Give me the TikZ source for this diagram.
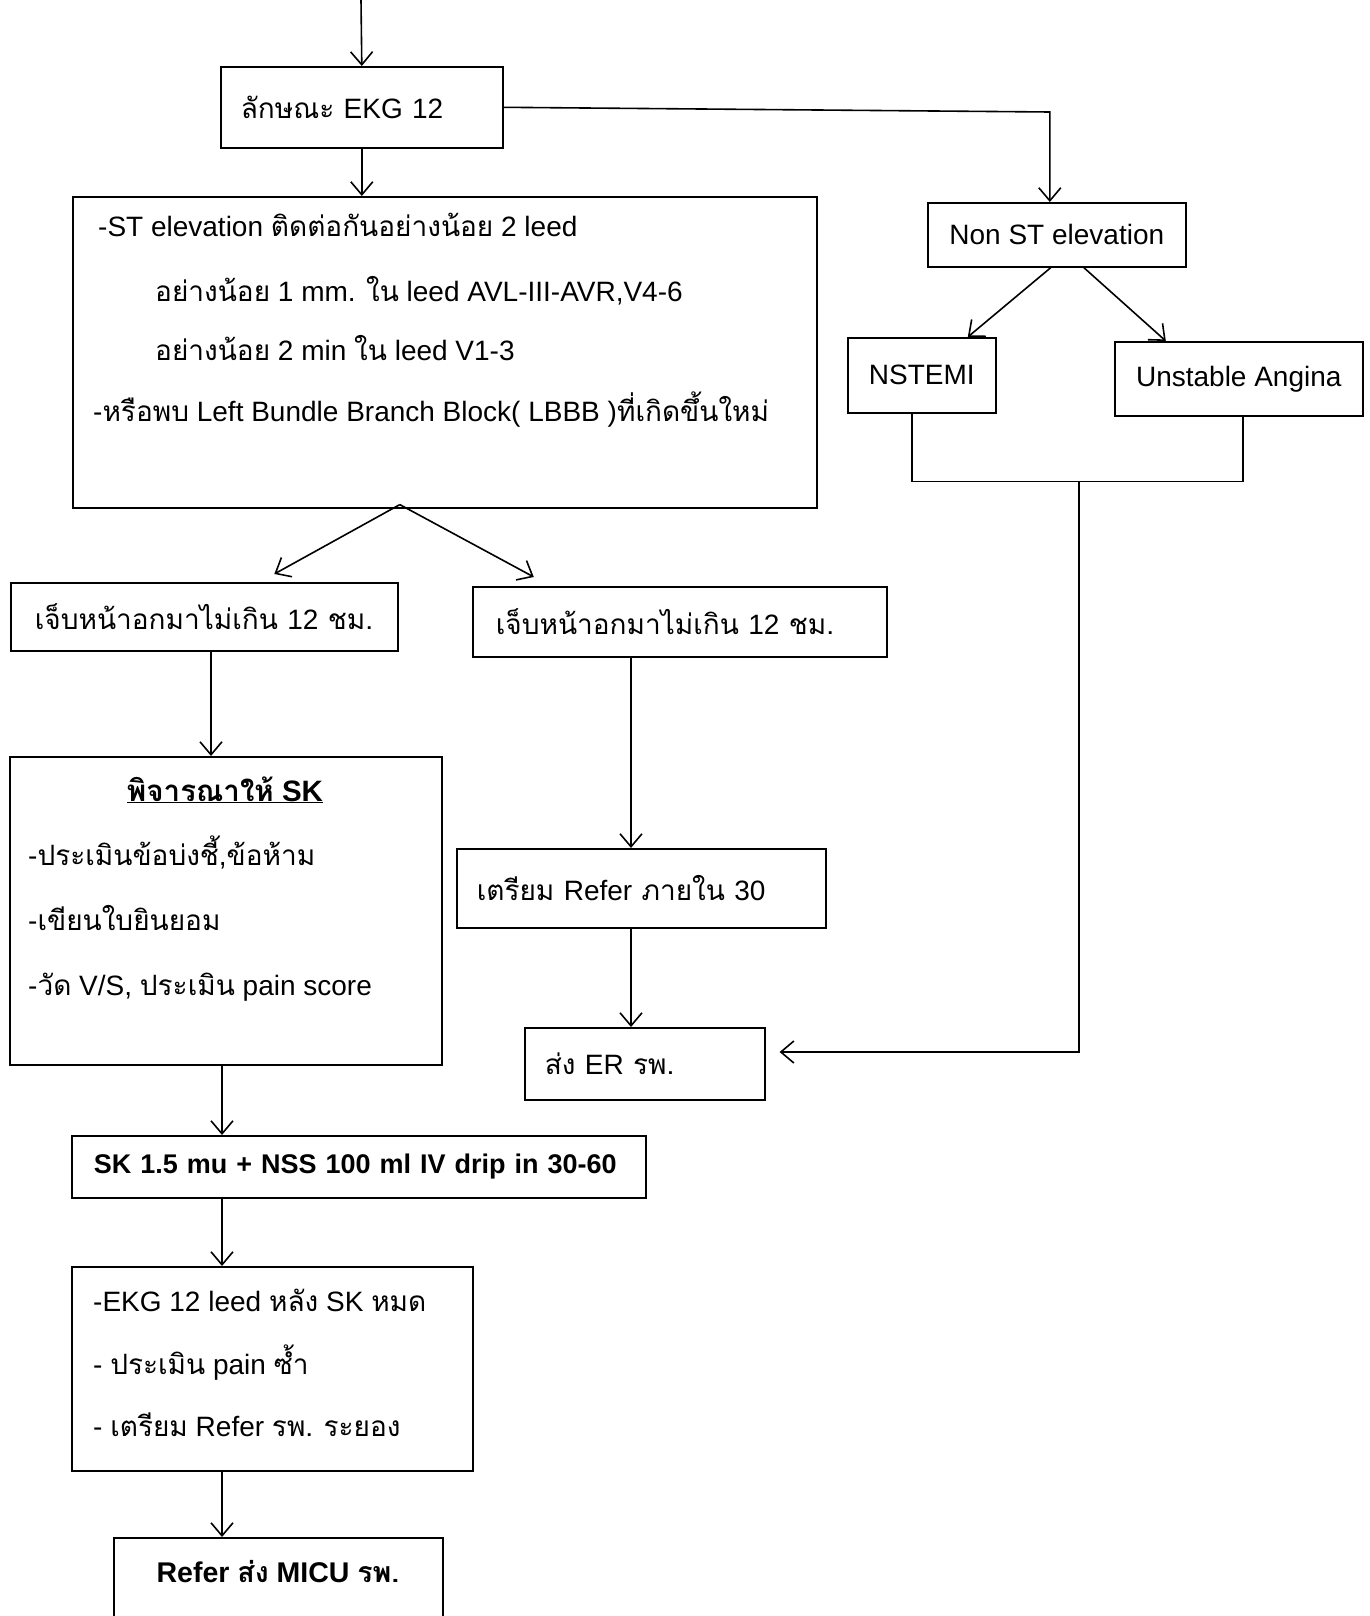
\documentclass[tikz,border=0pt]{standalone}
\usepackage{fontspec}
\setmainfont{Liberation Sans}
\newfontfamily\thaifont[Script=Thai]{Loma}
\newcommand\tf[1]{{\thaifont #1}}
\usetikzlibrary{arrows.meta,calc}
\begin{document}
\begin{tikzpicture}[x=1pt,y=-1pt,
  every node/.style={font=\fontsize{28}{33}\selectfont},
  box/.style={draw, line width=1.6pt, inner sep=0pt, anchor=north west},
  txt/.style={inner sep=0pt, anchor=west, text height=20pt, text depth=6pt},
  arr/.style={line width=1.6pt, -{Straight Barb[length=13pt,width=22pt,line width=1.6pt]}},
  ln/.style={line width=1.6pt}]
\useasboundingbox[fill=white] (0,0) rectangle (1369,1616);
% columns
\coordinate (xa) at (222,0);
\coordinate (xb) at (211,0);
\coordinate (xc) at (631,0);
\coordinate (start) at (361,0);
% boxes
\node[box, minimum width=282pt, minimum height=81pt, text width=242pt, inner xsep=20pt, align=left] (ekg) at (220,66) {\tf{ลักษณะ} EKG 12};
\node[box, minimum width=744pt, minimum height=311pt] (big) at (72,196) {};
\node[txt] (b1) at (98,229) {-ST elevation \tf{ติดต่อกันอย่างน้อย} 2 leed};
\node[txt] (b2) at (155,294) {\tf{อย่างน้อย} 1 mm. \tf{ใน} leed AVL-III-AVR,V4-6};
\node[txt] (b3) at (155,353) {\tf{อย่างน้อย} 2 min \tf{ใน} leed V1-3};
\node[txt] (b4) at (93,414) {-\tf{หรือพบ} Left Bundle Branch Block( LBBB )\tf{ที่เกิดขึ้นใหม่}};
\node[box, minimum width=258pt, minimum height=64pt] (nonst) at (927,202) {Non ST elevation};
\node[box, minimum width=148pt, minimum height=75pt] (nstemi) at (847,337) {NSTEMI};
\node[box, minimum width=248pt, minimum height=74pt] (ua) at (1114,341) {Unstable Angina};
\node[box, minimum width=387pt, minimum height=68pt, text width=339pt, inner xsep=24pt, align=left] (lchest) at (10,582) {\tf{เจ็บหน้าอกมาไม่เกิน} 12 \tf{ชม.}};
\node[box, minimum width=414pt, minimum height=70pt, text width=368pt, inner xsep=23pt, align=left] (rchest) at (472,586) {\tf{เจ็บหน้าอกมาไม่เกิน} 12 \tf{ชม.}};
\node[box, minimum width=432pt, minimum height=308pt] (sk) at (9,756) {};
\node[inner sep=0pt, text height=20pt, text depth=6pt, font=\fontsize{29.5}{34}\selectfont\bfseries] (s0) at (225,794) {\underline{\tf{พิจารณาให้} SK}};
\node[txt] (s1) at (28,858) {-\tf{ประเมินข้อบ่งชี้},\tf{ข้อห้าม}};
\node[txt] (s2) at (28,923) {-\tf{เขียนใบยินยอม}};
\node[txt] (s3) at (28,988) {-\tf{วัด} V/S, \tf{ประเมิน} pain score};
\node[box, minimum width=369pt, minimum height=79pt, text width=329pt, inner xsep=20pt, align=left] (refer) at (456,848) {\tf{เตรียม} Refer \tf{ภายใน} 30};
\node[box, minimum width=240pt, minimum height=72pt, text width=200pt, inner xsep=20pt, align=left] (er) at (524,1027) {\tf{ส่ง} ER \tf{รพ.}};
\node[box, minimum width=574pt, minimum height=62pt, text width=530pt, inner xsep=22pt, align=left, font=\fontsize{27}{32}\selectfont\bfseries] (drip) at (71,1135) {SK 1.5 mu + NSS 100 ml IV drip in 30-60};
\node[box, minimum width=401pt, minimum height=204pt] (ekg12) at (71,1266) {};
\node[txt] (e1) at (93,1304) {-EKG 12 leed \tf{หลัง} SK \tf{หมด}};
\node[txt] (e2) at (93,1367) {- \tf{ประเมิน} pain \tf{ซ้ำ}};
\node[txt] (e3) at (93,1429) {- \tf{เตรียม} Refer \tf{รพ.} \tf{ระยอง}};
\node[box, minimum width=329pt, minimum height=110pt] (micu) at (113,1537) {};
\node[inner sep=0pt, text height=20pt, text depth=6pt, font=\fontsize{28.5}{33}\selectfont\bfseries] (m1) at (278,1575) {Refer \tf{ส่ง} MICU \tf{รพ.}};
% connectors
\draw[arr] (start) -- (ekg.north);
\draw[arr] (ekg.south) -- (ekg.south |- big.north);
\draw[arr] (ekg.east) -- ($(nonst.north)+(-7,-90)$) -- ($(nonst.north)+(-7,0)$);
\draw[arr] ($(nonst.south)+(-6,0)$) -- ($(nstemi.north)+(46,0)$);
\draw[arr] ($(nonst.south)+(27,0)$) -- ($(ua.north)+(-73,0)$);
\coordinate (jl) at ($(nstemi.south)+(-10,68)$);
\coordinate (jr) at ($(ua.south)+(4,0)$);
\coordinate (jm) at (1079,0);
\draw[ln] ($(nstemi.south)+(-10,0)$) -- (jl) -- (jl -| jr) -- (jr);
\draw[arr] (jl -| jm) -- (jm |- 0,1052) -- ($(er.east |- 0,1052)+(14,0)$);
\draw[arr] ($(big.south)+(-45,-4)$) -- ($(lchest.north)+(70,-8)$);
\draw[arr] ($(big.south)+(-45,-4)$) -- ($(rchest.north)+(-146,-9)$);
\draw[arr] (lchest.south -| xb) -- (sk.north -| xb);
\draw[arr] (rchest.south -| xc) -- (refer.north -| xc);
\draw[arr] (refer.south -| xc) -- (er.north -| xc);
\draw[arr] (sk.south -| xa) -- (drip.north -| xa);
\draw[arr] (drip.south -| xa) -- (ekg12.north -| xa);
\draw[arr] (ekg12.south -| xa) -- (micu.north -| xa);
\end{tikzpicture}
\end{document}
